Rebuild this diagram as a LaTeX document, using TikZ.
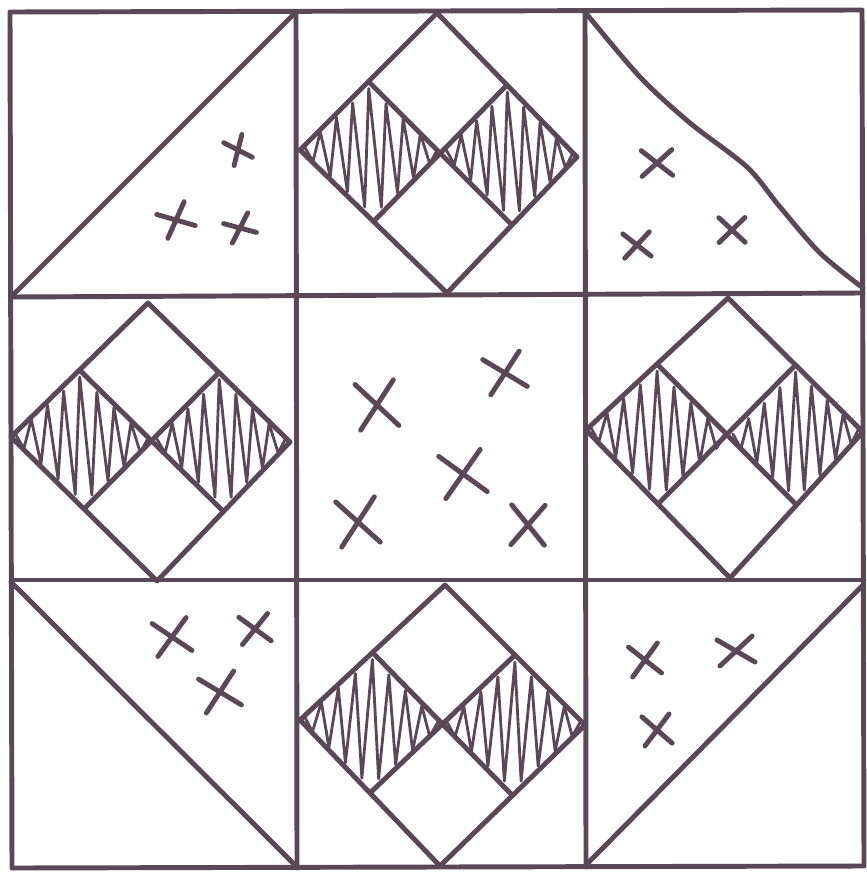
\documentclass[tikz,border=0pt]{standalone}
\usetikzlibrary{calc}
\definecolor{ink}{RGB}{90,72,86}
\begin{document}
\begin{tikzpicture}[x=0.01cm,y=-0.01cm,line join=round,line cap=round,
  pen/.style={draw=ink,line width=1.4pt},
  hatch/.style={draw=ink,line width=0.8pt},
  declare function={hk(\i)=0.06+1.88*\i/16; hd(\i)=min(hk(\i),1)-hk(\i)/2;
    hs(\i)=1-2*mod(\i,2); hu(\i)=hk(\i)/2+0.9*hs(\i)*hd(\i); hv(\i)=hk(\i)/2-0.9*hs(\i)*hd(\i);}]
\useasboundingbox (0,0) rectangle (867,876);
\fill[white] (0,0) rectangle (867,876);

% frame and seams
\draw[pen] (10,12) -- (862,10) -- (864,866) -- (12,868) -- cycle;
\draw[pen] (296,12) -- (297,868);
\draw[pen] (585,11) -- (586,867);
\draw[pen] (11,297) -- (863,293);
\draw[pen] (12,580) -- (864,580);

% corner triangles
\draw[pen] (12,296) -- (295,13);
\draw[pen] plot[smooth] coordinates {(585,12) (640,77) (690,123) (747,167) (780,207) (820,253) (863,288)};
\draw[pen] (11,582) -- (296,866);
\draw[pen] (863,585) -- (587,864);

% diamonds with shaded quarters
\foreach \tx/\ty/\lx/\ly/\bx/\by/\rx/\ry in {437/13/300/150/447/293/577/157,
    148/303/11/437/157/581/290/442, 728/298/586/430/730/578/863/432,
    445/585/300/720/440/866/585/725} {
  \coordinate (T) at (\tx,\ty);
  \coordinate (L) at (\lx,\ly);
  \coordinate (B) at (\bx,\by);
  \coordinate (R) at (\rx,\ry);
  \draw[pen] (T) -- (R) -- (B) -- (L) -- cycle;
  \draw[pen] ($(T)!.5!(L)$) -- ($(R)!.5!(B)$);
  \draw[pen] ($(T)!.5!(R)$) -- ($(L)!.5!(B)$);
  \foreach \px/\py in {\lx/\ly,\rx/\ry}
    \draw[hatch] plot[samples at={0,...,16}]
      ({\px+hu(\x)*(\tx-\px)/2+hv(\x)*(\bx-\px)/2},{\py+hu(\x)*(\ty-\py)/2+hv(\x)*(\by-\py)/2});
}

% crosses
\foreach \cx/\cy/\a/\b/\l in {238/150/27/104/16, 176/220/16/114/20, 240/228/15/117/17,
    657/163/38/138/20, 637/245/38/133/18, 732/230/43/136/18,
    377/405/43/123/30, 505/373/31/123/26, 463/474/36/125/30, 358/522/42/123/30, 528/525/51/131/26,
    172/637/34/126/24, 255/629/36/129/20, 220/692/31/123/25,
    645/660/38/126/21, 736/651/30/137/22, 657/730/41/127/20}
  \draw[pen] (\cx,\cy) ++(\a:\l) -- ++({\a+180}:{2*\l})
             (\cx,\cy) ++(\b:\l) -- ++({\b+180}:{2*\l});
\end{tikzpicture}
\end{document}
